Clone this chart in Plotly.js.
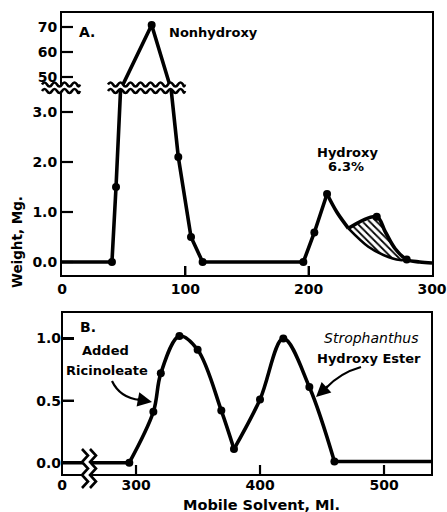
<!DOCTYPE html>
<html>
<head>
<meta charset="utf-8">
<script src="https://cdn.plot.ly/plotly-3.0.1.min.js"></script>
<style>html,body{margin:0;padding:0;background:#fff;}#chart{width:447px;height:512px;}</style>
</head>
<body>
<div id="chart"></div>
<script>
// ---------- DATA (panel A: weight in mg vs mobile solvent ml) ----------
// main nonhydroxy peak (linear segments); 45 = value where the line enters the axis break
const topLineX = [0, 40.5, 43.8, 47.5, 72.7, 88.5, 94.3, 104.6, 114, 195.7, 204.6, 214.9];
const topLineY = [0, 0, 1.5, 45, 70.8, 45, 2.1, 0.5, 0, 0, 0.59, 1.36];
// hydroxy peak decay (curved)
const hydFallX = [214.9, 222.8, 232.2];
const hydFallY = [1.36, 1.0, 0.674];
// outer envelope over the shaded shoulder
const hydOuterX = [232.2, 255.2, 262, 270, 279.5, 290, 300];
const hydOuterY = [0.674, 0.906, 0.61, 0.27, 0.05, 0.0, -0.02];
// extrapolated hydroxy decay (lower edge of shaded area)
const hydInnerX = [232.2, 248.4, 260.6, 274, 279.5];
const hydInnerY = [0.674, 0.306, 0.14, 0.04, 0.05];
// measured points (dots)
const topDotX = [40.5, 43.8, 72.7, 94.3, 104.6, 114, 195.7, 204.6, 214.9, 255.2, 279.5];
const topDotY = [0, 1.5, 70.8, 2.1, 0.5, 0, 0, 0.59, 1.36, 0.906, 0.05];
const topYTickVals = [0, 1, 2, 3, 50, 60, 70];
const topYTickText = ['0.0', '1.0', '2.0', '3.0', '50', '60', '70'];
const topXTicks = [0, 100, 200, 300];

// ---------- DATA (panel B) ----------
const botFlatX = [0, 294.6];
const botFlatY = [0, 0];
const botRiseX = [294.6, 314, 320, 335, 349.7, 368.8, 379];
const botRiseY = [0, 0.41, 0.72, 1.02, 0.91, 0.42, 0.11];
const botSecondX = [379, 400, 418.8, 439.8, 460];
const botSecondY = [0.11, 0.51, 1.0, 0.61, 0.01];
const botTailX = [460, 540];
const botTailY = [0.01, 0.01];
const botDotX = [294.6, 314, 320, 335, 349.7, 368.8, 379, 400, 418.8, 439.8, 460];
const botDotY = [0, 0.41, 0.72, 1.02, 0.91, 0.42, 0.11, 0.51, 1.0, 0.61, 0.01];
const botYTicks = [0, 0.5, 1.0];
const botYTickText = ['0.0', '0.5', '1.0'];
const botXTicks = [300, 400, 500];

// ---------- broken y axis (panel A) ----------
const BRK_LO = 3.4, BRK_HI = 44, UPPER_DIV = 20;
function brk(v) {
  if (v <= BRK_LO) return v;
  if (v >= BRK_HI) return BRK_LO + (v - BRK_HI) / UPPER_DIV;
  return BRK_LO;
}
const B = a => a.map(brk);

// ---------- layout helpers (pixel -> paper) ----------
const W = 447, H = 512, ML = 62, MR = 15, MT = 13, MB = 37;
const PW = W - ML - MR, PH = H - MT - MB;
const X = px => (px - ML) / PW;
const Y = py => (H - MB - py) / PH;
const f = n => n.toFixed(5);

function waveFwd(x0, x1, y, a, p) {
  let s = '', k = 0;
  for (let x = x0; x < x1 - 0.01; x += p / 2, k++) {
    const xb = Math.min(x + p / 2, x1);
    const cy = y + (k % 2 ? 2 * a : -2 * a);
    s += ` Q ${f(X((x + xb) / 2))},${f(Y(cy))} ${f(X(xb))},${f(Y(y))}`;
  }
  return s;
}
function waveBack(x0, x1, y, a, p) {
  const segs = [];
  let k = 0;
  for (let x = x0; x < x1 - 0.01; x += p / 2, k++) {
    const xb = Math.min(x + p / 2, x1);
    segs.push({xa: x, xb: xb, cy: y + (k % 2 ? 2 * a : -2 * a)});
  }
  let s = '';
  for (let i = segs.length - 1; i >= 0; i--) {
    const g = segs[i];
    s += ` Q ${f(X((g.xa + g.xb) / 2))},${f(Y(g.cy))} ${f(X(g.xa))},${f(Y(y))}`;
  }
  return s;
}
function breakSymbol(x0, x1, yTop, yBot) {
  const a = 2, p = 10;
  const band = `M ${f(X(x0))},${f(Y(yTop))}` + waveFwd(x0, x1, yTop, a, p) +
    ` L ${f(X(x1))},${f(Y(yBot))}` + waveBack(x0, x1, yBot, a, p) + ' Z';
  const l1 = `M ${f(X(x0))},${f(Y(yTop))}` + waveFwd(x0, x1, yTop, a, p);
  const l2 = `M ${f(X(x0))},${f(Y(yBot))}` + waveFwd(x0, x1, yBot, a, p);
  return [
    {type: 'path', xref: 'paper', yref: 'paper', path: band, fillcolor: 'white', line: {width: 0}, layer: 'above'},
    {type: 'path', xref: 'paper', yref: 'paper', path: l1, line: {color: 'black', width: 2.6}, layer: 'above'},
    {type: 'path', xref: 'paper', yref: 'paper', path: l2, line: {color: 'black', width: 2.6}, layer: 'above'}
  ];
}
function zigzag(xc, y0, y1, a, n) {
  const pts = [];
  for (let i = 0; i <= n; i++) pts.push([xc + (i % 2 ? a : -a), y0 + (y1 - y0) * i / n]);
  return pts;
}
function ptsPath(pts) { return pts.map((p, i) => (i ? 'L ' : 'M ') + f(X(p[0])) + ',' + f(Y(p[1]))).join(' '); }

const zL = zigzag(85, 449, 488, 3, 6), zR = zigzag(93, 449, 488, 3, 6);
const xBreakShapes = [
  {type: 'path', xref: 'paper', yref: 'paper', path: ptsPath(zL.concat(zR.slice().reverse())) + ' Z', fillcolor: 'white', line: {width: 0}, layer: 'above'},
  {type: 'path', xref: 'paper', yref: 'paper', path: ptsPath(zL), line: {color: 'black', width: 2.6}, layer: 'above'},
  {type: 'path', xref: 'paper', yref: 'paper', path: ptsPath(zR), line: {color: 'black', width: 2.6}, layer: 'above'}
];

const arrowShapes = [
  {type: 'path', xref: 'paper', yref: 'paper', layer: 'above',
   path: `M ${f(X(112))},${f(Y(381))} Q ${f(X(120))},${f(Y(398))} ${f(X(140))},${f(Y(400))}`,
   line: {color: 'black', width: 2.2}},
  {type: 'path', xref: 'paper', yref: 'paper', layer: 'above',
   path: `M ${f(X(361))},${f(Y(367))} Q ${f(X(340))},${f(Y(373))} ${f(X(326))},${f(Y(388))}`,
   line: {color: 'black', width: 2.2}}
];
const frameB = {type: 'rect', xref: 'paper', yref: 'paper', x0: 0, x1: 1, y0: 0, y1: Y(312),
  line: {color: 'black', width: 2}, fillcolor: 'rgba(0,0,0,0)', layer: 'above'};

// inside tick marks (axis furniture, positioned by the axes' own scales)
const TKW = 2.2;
const tickShapes = []
  .concat(B(topYTickVals).map(v => ({type: 'line', xref: 'paper', yref: 'y', x0: 0, x1: 11 / PW, y0: v, y1: v,
    line: {color: 'black', width: TKW}, layer: 'above'})))
  .concat([100, 200].map(v => ({type: 'line', xref: 'x', yref: 'paper', x0: v, x1: v, y0: Y(275), y1: Y(266),
    line: {color: 'black', width: TKW}, layer: 'above'})))
  .concat(botYTicks.map(v => ({type: 'line', xref: 'paper', yref: 'y2', x0: 0, x1: 12 / PW, y0: v, y1: v,
    line: {color: 'black', width: TKW}, layer: 'above'})))
  .concat(botXTicks.map(v => ({type: 'line', xref: 'x3', yref: 'paper', x0: v, x1: v, y0: 0, y1: 10 / PH,
    line: {color: 'black', width: TKW}, layer: 'above'})));

// ---------- traces ----------
const LW = 3.6, BLK = 'black';
const line = (x, y, shape, xa, ya) => ({x: x, y: y, xaxis: xa, yaxis: ya, mode: 'lines', type: 'scatter',
  line: {color: BLK, width: LW, shape: shape, smoothing: 1}, hoverinfo: 'skip'});

const nOuter = hydOuterX.filter(v => v <= 279.5).length;
const hatchX = hydOuterX.slice(0, nOuter).concat(hydInnerX.slice().reverse());
const hatchY = hydOuterY.slice(0, nOuter).concat(hydInnerY.slice().reverse());

const traces = [
  {x: hatchX, y: B(hatchY), xaxis: 'x', yaxis: 'y', type: 'scatter', mode: 'lines', fill: 'toself',
   fillcolor: 'white', line: {width: 0, color: 'rgba(0,0,0,0)'},
   fillpattern: {shape: '\\', fgcolor: 'black', bgcolor: 'white', size: 5, solidity: 0.35}, hoverinfo: 'skip'},
  line(topLineX, B(topLineY), 'linear', 'x', 'y'),
  line(hydFallX, B(hydFallY), 'spline', 'x', 'y'),
  line(hydOuterX, B(hydOuterY), 'spline', 'x', 'y'),
  Object.assign(line(hydInnerX, B(hydInnerY), 'spline', 'x', 'y'), {line: {color: BLK, width: 2.6, shape: 'spline'}}),
  {x: topDotX, y: B(topDotY), xaxis: 'x', yaxis: 'y', type: 'scatter', mode: 'markers',
   marker: {color: BLK, size: 8}, hoverinfo: 'skip'},
  // panel B
  line(botFlatX, botFlatY, 'linear', 'x2', 'y2'),
  line(botFlatX, botFlatY, 'linear', 'x3', 'y2'),
  line(botRiseX, botRiseY, 'spline', 'x3', 'y2'),
  line(botSecondX, botSecondY, 'spline', 'x3', 'y2'),
  line(botTailX, botTailY, 'linear', 'x3', 'y2'),
  {x: botDotX, y: botDotY, xaxis: 'x3', yaxis: 'y2', type: 'scatter', mode: 'markers',
   marker: {color: BLK, size: 8}, hoverinfo: 'skip'}
];

const TF = {family: 'DejaVu Sans', size: 14, color: 'black', weight: 'bold'};
const axCommon = {showgrid: false, zeroline: false, ticks: 'inside', tickcolor: 'black',
  tickwidth: 2.2, tickfont: TF, fixedrange: true};

const ann = (px, py, text, extra) => Object.assign({xref: 'paper', yref: 'paper', x: X(px), y: Y(py),
  text: text, showarrow: false, xanchor: 'center', yanchor: 'middle',
  font: {family: 'DejaVu Sans', size: 13, color: 'black', weight: 'bold'}}, extra || {});

const layout = {
  width: W, height: H,
  margin: {l: ML, r: MR, t: MT, b: MB, pad: 0},
  paper_bgcolor: 'white', plot_bgcolor: 'white', showlegend: false,
  xaxis: Object.assign({}, axCommon, {domain: [0, 1], anchor: 'y', range: [0, 300],
    tickvals: topXTicks, ticktext: topXTicks.map(String), ticklen: 9,
    showline: true, mirror: true, linecolor: 'black', linewidth: 2}),
  yaxis: Object.assign({}, axCommon, {domain: [Y(275), 1], anchor: 'x', range: [-0.26, 4.98],
    tickvals: B(topYTickVals), ticktext: topYTickText, ticklen: 11,
    showline: true, mirror: true, linecolor: 'black', linewidth: 2}),
  xaxis2: Object.assign({}, axCommon, {domain: [0, X(90)], anchor: 'y2', range: [0, 22.6],
    tickvals: [0], ticktext: ['0'], ticklen: 9, showline: false}),
  xaxis3: Object.assign({}, axCommon, {domain: [X(90), 1], anchor: 'y2', range: [262.9, 538.7],
    tickvals: botXTicks, ticktext: botXTicks.map(String), ticklen: 10, showline: false}),
  yaxis2: Object.assign({}, axCommon, {domain: [0, Y(312)], anchor: 'x2', range: [-0.099, 1.214],
    tickvals: botYTicks, ticktext: botYTickText, ticklen: 12, showline: false}),
  shapes: [frameB].concat(tickShapes, breakSymbol(42, 80, 84.5, 91), breakSymbol(108, 185, 84.5, 91), xBreakShapes, arrowShapes),
  annotations: [
    ann(87, 32, 'A.', {font: {family: 'DejaVu Sans', size: 14, color: 'black', weight: 'bold'}}),
    ann(167, 33, 'Nonhydroxy', {xanchor: 'left'}),
    ann(347, 152, 'Hydroxy'),
    ann(346, 166, '6.3%'),
    ann(88, 327, 'B.', {font: {family: 'DejaVu Sans', size: 14, color: 'black', weight: 'bold'}}),
    ann(105, 350, 'Added'),
    ann(107, 370, 'Ricinoleate'),
    ann(371, 338, 'Strophanthus', {font: {family: 'DejaVu Sans', size: 14, color: 'black', style: 'italic', weight: 'normal'}}),
    ann(369, 358, 'Hydroxy Ester'),
    ann(17, 242, 'Weight, Mg.', {textangle: -90, font: {family: 'DejaVu Sans', size: 13.5, color: 'black', weight: 'bold'}}),
    ann(261, 505, 'Mobile Solvent, Ml.', {font: {family: 'DejaVu Sans', size: 14.5, color: 'black', weight: 'bold'}}),
    {xref: 'paper', yref: 'paper', x: X(152), y: Y(402), ax: -16, ay: -3, text: '', showarrow: true,
     arrowhead: 2, arrowsize: 1.3, arrowwidth: 2.2, arrowcolor: 'black'},
    {xref: 'paper', yref: 'paper', x: X(316), y: Y(397), ax: 13, ay: -12, text: '', showarrow: true,
     arrowhead: 2, arrowsize: 1.3, arrowwidth: 2.2, arrowcolor: 'black'}
  ]
};

Plotly.newPlot('chart', traces, layout, {displayModeBar: false, staticPlot: true});
</script>
</body>
</html>
